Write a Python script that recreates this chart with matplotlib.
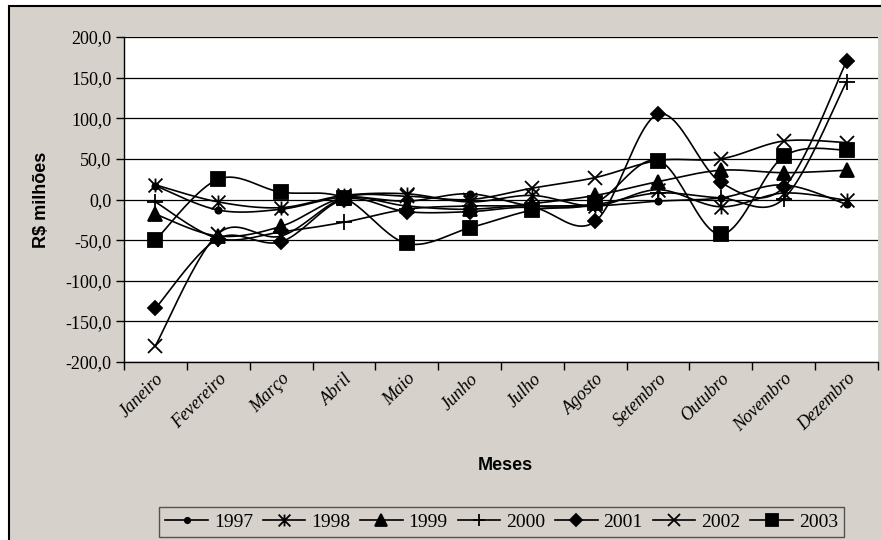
import numpy as np
import matplotlib
matplotlib.use("Agg")
import matplotlib.pyplot as plt
import matplotlib.transforms as mtransforms
from matplotlib.lines import Line2D
from matplotlib.path import Path
from matplotlib.patches import Rectangle

# --- data ---
meses = ["Janeiro", "Fevereiro", "Março", "Abril", "Maio", "Junho",
         "Julho", "Agosto", "Setembro", "Outubro", "Novembro", "Dezembro"]

s1997 = [17, -13, -12, 3, -2, 7, -8, -8, -2, 2, 18, -6]
s1998 = [18, -3, -10, 5, 7, -3, 5, -8, 12, -9, 8, -1]
s1999 = [-18, -45, -33, 2, -8, -12, -5, 5, 22, 36, 33, 36]
s2000 = [-3, -48, -40, -28, -12, -8, -8, -6, 8, 2, 1, 145]
s2001 = [-134, -48, -52, 0, -15, -15, -10, -27, 105, 21, 15, 170]
s2002 = [-180, -42, -45, 2, 4, 0, 14, 27, 48, 50, 72, 70]
s2003 = [-50, 25, 9, 2, -54, -35, -13, -4, 48, -43, 53, 61]

anos = ["1997", "1998", "1999", "2000", "2001", "2002", "2003"]
series = [s1997, s1998, s1999, s2000, s2001, s2002, s2003]

# --- marker styles (Excel-like) ---
asterisk = Path([(0, -1), (0, 1), (-1, -1), (1, 1), (-1, 1), (1, -1)],
                [Path.MOVETO, Path.LINETO] * 3)
markers = [("o", 4.5), (asterisk, 10), ("^", 10), ("+", 11), ("D", 7.5), ("x", 10), ("s", 10)]


def smooth(y, n=24):
    # Catmull-Rom style smoothing, like Excel's smoothed line
    x = np.arange(len(y), dtype=float)
    p = np.column_stack([x, np.asarray(y, dtype=float)])
    p = np.vstack([p[0], p, p[-1]])
    t = np.linspace(0, 1, n)[:, None]
    out = []
    for i in range(1, len(p) - 2):
        p0, p1, p2, p3 = p[i - 1], p[i], p[i + 1], p[i + 2]
        c1 = p1 + (p2 - p0) / 6
        c2 = p2 - (p3 - p1) / 6
        seg = ((1 - t) ** 3) * p1 + 3 * ((1 - t) ** 2) * t * c1 + 3 * (1 - t) * t ** 2 * c2 + t ** 3 * p2
        out.append(seg if i == 1 else seg[1:])
    out = np.vstack(out)
    return out[:, 0], out[:, 1]


bg = "#d6d1cb"
fig = plt.figure(figsize=(8.81, 5.40), dpi=100, facecolor="white")
fig.patches.append(Rectangle((9 / 881, -0.1), 1.1, 1 - 5.5 / 540 + 0.1, transform=fig.transFigure,
                             facecolor=bg, edgecolor="black", linewidth=1.5, zorder=-10))

ax = fig.add_axes([124 / 881, 1 - 362 / 540, 754 / 881, 325 / 540])
ax.set_facecolor("white")

x = np.arange(len(meses))
handles = []
for ano, ys, (m, ms) in zip(anos, series, markers):
    sx, sy = smooth(ys)
    ax.plot(sx, sy, color="black", lw=1.2, zorder=3)
    ax.plot(x, ys, linestyle="none", marker=m, markersize=ms, color="black",
            markerfacecolor="black", markeredgewidth=1.3, zorder=4)
    handles.append(Line2D([], [], color="black", lw=1.2, marker=m, markersize=ms * 0.85,
                          markerfacecolor="black", markeredgewidth=1.3))

# --- axes ---
ax.set_ylim(-200, 200)
ax.set_xlim(-0.5, 11.5)
ax.set_yticks(np.arange(-200, 201, 50))
ax.set_yticklabels([f"{v:.1f}".replace(".", ",") for v in np.arange(-200, 201, 50)],
                   family="Liberation Serif", fontsize=13)
ax.yaxis.grid(True, color="black", lw=0.9)
ax.set_axisbelow(True)
ax.tick_params(axis="y", direction="out", length=6, width=1, pad=3)

ax.set_xticks(x)
ax.set_xticks(np.arange(-0.5, 12, 1), minor=True)
ax.set_xticklabels(meses, rotation=45, ha="right", va="top", rotation_mode="anchor",
                   family="Liberation Serif", style="italic", fontsize=13)
shift = mtransforms.ScaledTranslation(5 / 100, 0, fig.dpi_scale_trans)
for lab in ax.get_xticklabels():
    lab.set_transform(lab.get_transform() + shift)
ax.tick_params(axis="x", which="major", length=0, pad=6)
ax.tick_params(axis="x", which="minor", direction="out", length=6, width=1)

for side in ["top", "right"]:
    ax.spines[side].set_visible(False)
ax.spines["left"].set_linewidth(1)
ax.spines["bottom"].set_linewidth(1)

ax.set_ylabel("R$ milhões", family="Liberation Sans", fontweight="bold", fontsize=13)
ax.yaxis.set_label_coords(-74 / 754, 0.5)
fig.text(505 / 881, 1 - 466 / 540, "Meses", family="Liberation Sans", fontweight="bold",
         fontsize=13, ha="center", va="center")

leg = fig.legend(handles, anos, loc="center", bbox_to_anchor=(501.5 / 881, 1 - 522 / 540),
                 ncol=7, frameon=True, fancybox=False, handlelength=2.2, handletextpad=0.3,
                 columnspacing=0.5, borderpad=0.3,
                 prop={"family": "Liberation Serif", "size": 14})
leg.get_frame().set_edgecolor("#333333")
leg.get_frame().set_facecolor(bg)
leg.get_frame().set_linewidth(1)

fig.savefig("out.png", dpi=100, facecolor=fig.get_facecolor())
